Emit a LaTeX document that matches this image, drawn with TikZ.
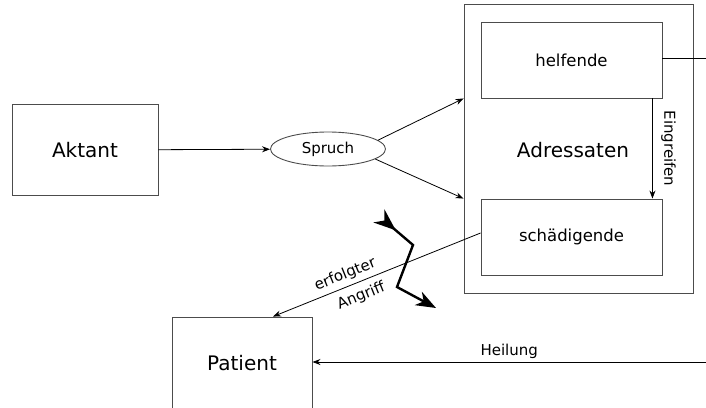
\documentclass[tikz,border=0pt]{standalone}
\usepackage{fontspec}
\setmainfont{DejaVu Sans}
\usetikzlibrary{arrows.meta,shapes.geometric}

\begin{document}
\begin{tikzpicture}[x=1pt, y=-1pt,
  box/.style = {draw=black!70, line width=0.9pt, inner sep=0pt},
  big/.style = {font=\fontsize{20}{24}\selectfont},
  mid/.style = {font=\fontsize{16.5}{20}\selectfont},
  small/.style = {font=\fontsize{15}{18}\selectfont},
  arr/.style = {line width=0.8pt, -{Stealth[length=8pt,width=6pt]}},
  rarr/.style = {line width=0.8pt, {Stealth[length=8pt,width=6pt]}-}]
\useasboundingbox (0,0) rectangle (706,407);
\node[box, big, minimum width=146pt, minimum height=91pt] (aktant) at (85,150) {Aktant};
\node[box, small, ellipse, minimum width=115pt, minimum height=34pt] (spruch) at (328,149) {Spruch};
\node[box, minimum width=229pt, minimum height=289pt] (adr) at (578.5,148.5) {};
\node[big] (adrtext) at (573,150) {Adressaten};
\node[box, mid, minimum width=181pt, minimum height=76pt] (helf) at (571.5,60) {helfende};
\node[box, mid, minimum width=181pt, minimum height=76pt] (schaed) at (571.5,237) {schädigende};
\node[box, big, minimum width=140pt, minimum height=92pt] (patient) at (242,363) {Patient};
\coordinate (heilstart) at (706,362);
\draw[arr] (aktant) -- (spruch);
\draw[arr] (spruch.10) -- (adr.west |- helf.south);
\draw[arr] (spruch.-12) -- (adr.west |- schaed.north);
\draw[arr] ([xshift=-10pt]helf.south east) -- ([xshift=-10pt]schaed.north east)
  node[midway, sloped, above=5pt, small] {Eingreifen};
\draw[line width=0.8pt] ([yshift=2pt]helf.east) -- ([yshift=2pt]helf.east -| heilstart);
\draw[arr] (heilstart) -- (patient.east |- heilstart) node[midway, above, small] {Heilung};
\draw[rarr] ([xshift=31pt]patient.north) -- ([yshift=4pt]schaed.west)
  node[pos=0.37, sloped, above=1pt, small] {erfolgter}
  node[pos=0.40, sloped, below=3pt, small] {Angriff};
% Blitz
\draw[line width=2.4pt, {Stealth[reversed,length=22pt,width=17pt,inset=7pt]}-{Stealth[length=20pt,width=15pt,inset=6pt]}]
  (379,216) -- (413,245) -- (397,287) -- (436,308);
\end{tikzpicture}
\end{document}
